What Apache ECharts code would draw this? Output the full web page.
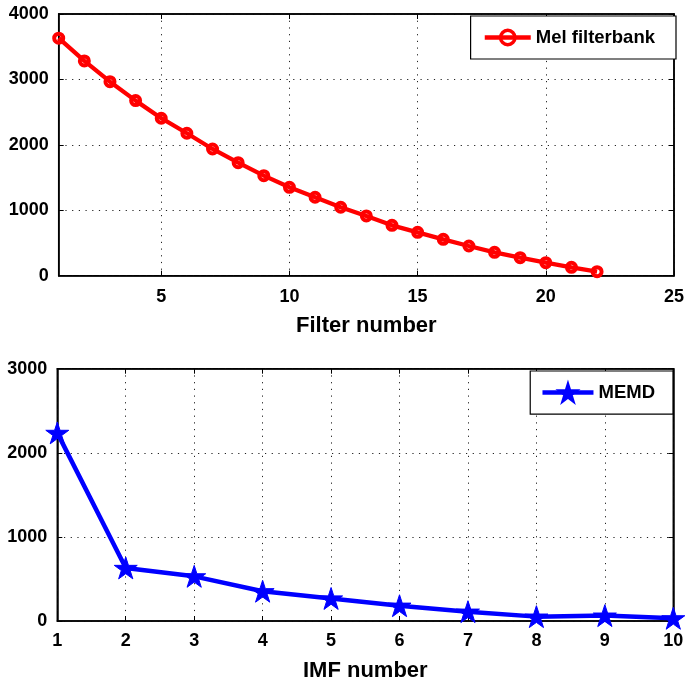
<!DOCTYPE html>
<html>
<head>
<meta charset="utf-8">
<script src="https://cdn.jsdelivr.net/npm/echarts@6/dist/echarts.min.js"></script>
<style>
html,body{margin:0;padding:0;background:#fff;}
#c{width:687px;height:683px;}
</style>
</head>
<body>
<div id="c"></div>
<script>
// ---- data ----
var melX = [1,2,3,4,5,6,7,8,9,10,11,12,13,14,15,16,17,18,19,20,21,22];
var melY = [3630,3283,2966,2676,2407,2177,1937,1728,1529,1351,1199,1046,913,770,663,556,454,357,275,199,128,61];
var imfX = [1,2,3,4,5,6,7,8,9,10];
var imfY = [2237,631,531,354,268,182,111,52,64,32];
var melTicks = [5,10,15,20,25];
var melName = 'Mel filterbank';
var imfName = 'MEMD';
var melXTitle = 'Filter number';
var imfXTitle = 'IMF number';

var FONT = '"Liberation Sans", Arial, Helvetica, sans-serif';
var STAR = 'path://M50 0 L61.23 34.55 L97.55 34.55 L68.17 55.9 L79.39 90.45 L50 69.1 L20.61 90.45 L31.83 55.9 L2.45 34.55 L38.77 34.55 Z';

function pairs(xs, ys){ return xs.map(function(x,i){return [x, ys[i]];}); }
function plain(v){ return String(v); }

var lblStyle = {color:'#000', fontFamily:FONT, fontWeight:'bold', fontSize:18, formatter:plain};
var dotted = {show:true, lineStyle:{color:'#222', width:1, type:[1.2,5.5]}};
var axLine = {show:true, onZero:false, lineStyle:{color:'#000', width:1.5}};
var tickIn = {show:true, inside:true, length:5, lineStyle:{color:'#000', width:1}};
var noLbl = {show:false};
var noSplit = {show:false};
var titleStyle = {color:'#000', fontFamily:FONT, fontWeight:'bold', fontSize:22};

var chart = echarts.init(document.getElementById('c'), null, {renderer:'canvas'});
chart.setOption({
  animation:false,
  backgroundColor:'#fff',
  grid:[
    {left:58.7, top:14, right:9.3, height:261.7, show:true, borderColor:'#000', borderWidth:1.5, backgroundColor:'transparent'},
    {left:57.3, top:368.7, right:13.7, height:254, show:true, borderColor:'#000', borderWidth:1.5, backgroundColor:'transparent'}
  ],
  legend:[
    {data:[melName], right:11, top:16, orient:'horizontal',
     backgroundColor:'#fff', borderColor:'#000', borderWidth:1.2,
     padding:[12,21,12,12], itemWidth:46, itemHeight:18, itemGap:10,
     lineStyle:{width:4.3},
     itemStyle:{borderWidth:3.5},
     textStyle:{color:'#000', fontFamily:FONT, fontWeight:'bold', fontSize:18.5}},
    {data:[imfName], right:14, top:371,
     backgroundColor:'#fff', borderColor:'#000', borderWidth:1.2,
     padding:[11,18,11,10], itemWidth:51, itemHeight:24, itemGap:10,
     lineStyle:{width:4.5},
     textStyle:{color:'#000', fontFamily:FONT, fontWeight:'bold', fontSize:18.5}}
  ],
  xAxis:[
    {type:'value', gridIndex:0, min:1, max:25, position:'bottom',
     axisLine:axLine, axisTick:Object.assign({customValues:melTicks}, tickIn),
     axisLabel:Object.assign({customValues:melTicks, margin:12}, lblStyle),
     splitLine:dotted,
     name:melXTitle, nameLocation:'middle', nameGap:39, nameTextStyle:titleStyle},
    {type:'value', gridIndex:1, min:1, max:10, interval:1, position:'bottom',
     axisLine:axLine, axisTick:tickIn,
     axisLabel:Object.assign({margin:11}, lblStyle),
     splitLine:dotted,
     name:imfXTitle, nameLocation:'middle', nameGap:39, nameTextStyle:titleStyle},
    {type:'value', gridIndex:0, min:1, max:25, position:'top',
     axisLine:axLine, axisTick:Object.assign({customValues:melTicks}, tickIn),
     axisLabel:noLbl, splitLine:noSplit},
    {type:'value', gridIndex:1, min:1, max:10, interval:1, position:'top',
     axisLine:axLine, axisTick:tickIn, axisLabel:noLbl, splitLine:noSplit}
  ],
  yAxis:[
    {type:'value', gridIndex:0, min:0, max:4000, interval:1000, position:'left',
     axisLine:axLine, axisTick:tickIn,
     axisLabel:Object.assign({margin:10}, lblStyle),
     splitLine:dotted},
    {type:'value', gridIndex:1, min:0, max:3000, interval:1000, position:'left',
     axisLine:axLine, axisTick:tickIn,
     axisLabel:Object.assign({margin:10}, lblStyle),
     splitLine:dotted},
    {type:'value', gridIndex:0, min:0, max:4000, interval:1000, position:'right',
     axisLine:axLine, axisTick:tickIn, axisLabel:noLbl, splitLine:noSplit},
    {type:'value', gridIndex:1, min:0, max:3000, interval:1000, position:'right',
     axisLine:axLine, axisTick:tickIn, axisLabel:noLbl, splitLine:noSplit}
  ],
  series:[
    {name:melName, type:'line', xAxisIndex:0, yAxisIndex:0, data:pairs(melX, melY),
     symbol:'circle', symbolSize:9, showSymbol:true,
     lineStyle:{color:'#ff0000', width:4.3},
     itemStyle:{color:'rgba(255,255,255,0)', borderColor:'#ff0000', borderWidth:4}},
    {name:imfName, type:'line', xAxisIndex:1, yAxisIndex:1, data:pairs(imfX, imfY),
     symbol:STAR, symbolSize:23, symbolKeepAspect:true, showSymbol:true,
     lineStyle:{color:'#0000ff', width:4.5},
     itemStyle:{color:'#0000ff', borderColor:'#0000ff', borderWidth:1}}
  ]
});
</script>
</body>
</html>
